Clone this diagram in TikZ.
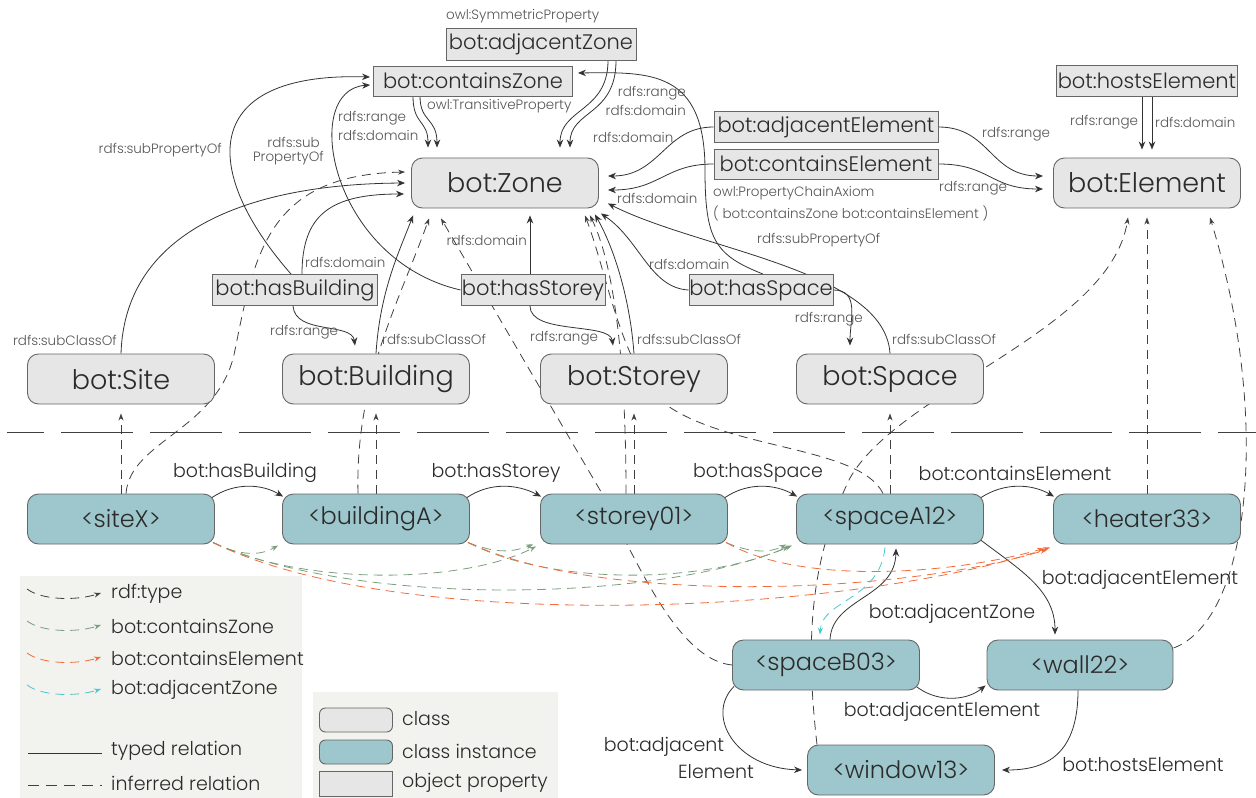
\documentclass[tikz,border=0pt]{standalone}
\usepackage{fontspec}
\setmainfont{Poppins Light}
\usetikzlibrary{arrows.meta}
\definecolor{clsfill}{HTML}{E6E6E6}
\definecolor{instfill}{HTML}{9DC7CC}
\definecolor{legfill}{HTML}{F2F2EE}
\definecolor{czgreen}{HTML}{7A9E7E}
\definecolor{ceorange}{HTML}{F26B3A}
\definecolor{azcyan}{HTML}{4CC6CC}
\definecolor{txt}{HTML}{2B2B2B}
\definecolor{smalltxt}{HTML}{555555}
\newcommand\fsz[1]{\fontsize{#1}{#1}\selectfont}
\pgfdeclarelayer{lowest}
\pgfdeclarelayer{edges}
\pgfsetlayers{lowest,edges,main}
\tikzset{
 cls/.style={draw=black!60, line width=0.9pt, fill=clsfill, rounded corners=11pt, minimum width=187pt, minimum height=50pt, inner sep=0pt, font=\fsz{27}, text=txt},
 inst/.style={cls, fill=instfill, font=\fsz{24}},
 prop/.style={draw=black!60, line width=0.9pt, fill=clsfill, minimum height=31pt, inner sep=0pt, font=\fsz{21}, text=txt},
 sl/.style={font=\fsz{13.5}, text=smalltxt, inner sep=0pt},
 el/.style={font=\fsz{19}, text=txt, inner sep=0pt},
 ar/.style={-{Stealth[length=8pt,width=6.5pt]}, line width=0.8pt, draw=black!80},
 infer/.style={-{Stealth[length=7pt,width=5pt]}, line width=0.8pt, draw=black!75, dash pattern=on 9pt off 6pt},
 gz/.style={infer, draw=czgreen},
 oe/.style={infer, draw=ceorange},
 cz/.style={infer, draw=azcyan},
}
\begin{document}
\begin{tikzpicture}[x=1pt,y=-1pt]
\useasboundingbox (0,0) rectangle (1256,798);
% ---------- classes ----------
\node[cls] (zone) at (505,183) {bot:Zone};
\node[cls] (element) at (1147,183) {bot:Element};
\node[cls] (site) at (121,379) {bot:Site};
\node[cls] (building) at (376,379) {bot:Building};
\node[cls] (storey) at (634,379) {bot:Storey};
\node[cls] (space) at (890,379) {bot:Space};
% ---------- instances ----------
\node[inst] (siteX) at (121,519) {<siteX>};
\node[inst] (buildingA) at (376,519) {<buildingA>};
\node[inst] (storey01) at (634,519) {<storey01>};
\node[inst] (spaceA12) at (890,519) {<spaceA12>};
\node[inst] (heater) at (1147,519) {<heater33>};
\node[inst] (spaceB) at (826,665) {<spaceB03>};
\node[inst, minimum width=186pt] (wall) at (1080,665) {<wall22>};
\node[inst] (window) at (901,770) {<window13>};
% ---------- properties ----------
\node[prop, minimum width=190pt, minimum height=32pt] (adjZ) at (541,44) {bot:adjacentZone};
\node[prop, minimum width=199pt, minimum height=30pt] (conZ) at (473,81) {bot:containsZone};
\node[prop, minimum width=224pt] (adjE) at (826,127) {bot:adjacentElement};
\node[prop, minimum width=224pt, minimum height=30pt] (conE) at (826,164) {bot:containsElement};
\node[prop, minimum width=181pt] (hostE) at (1147,81) {bot:hostsElement};
\node[prop, minimum width=165pt] (hasB) at (295,290) {bot:hasBuilding};
\node[prop, minimum width=144pt] (hasS) at (533,290) {bot:hasStorey};
\node[prop, minimum width=144pt] (hasSp) at (761,290) {bot:hasSpace};
% ---------- small labels ----------
\node[sl, anchor=west] (l1) at (446,16) {owl:SymmetricProperty};
\node[sl, anchor=west] (l2) at (427,106) {owl:TransitiveProperty};
\node[sl, anchor=west] (l3) at (338,118) {rdfs:range};
\node[sl, anchor=west] (l4) at (338,135) {rdfs:domain};
\node[sl, anchor=east] (l5) at (686,93) {rdfs:range};
\node[sl, anchor=east] (l6) at (686,110) {rdfs:domain};
\node[sl, anchor=west] (l7) at (593,137) {rdfs:domain};
\node[sl, anchor=west] (l8) at (617,198) {rdfs:domain};
\node[sl, anchor=west] (l9) at (982,134) {rdfs:range};
\node[sl, anchor=west] (l10) at (939,188) {rdfs:range};
\node[sl, anchor=west] (l11) at (713,193) {owl:PropertyChainAxiom};
\node[sl, anchor=west] (l12) at (713,213) {( bot:containsZone bot:containsElement )};
\node[sl, anchor=west] (l13) at (1070,122) {rdfs:range};
\node[sl, anchor=west] (l14) at (1155,122) {rdfs:domain};
\node[sl, anchor=east] (l15) at (222,150) {rdfs:subPropertyOf};
\node[sl, anchor=east] (l16) at (320,142) {rdfs:sub};
\node[sl, anchor=east] (l17) at (324,158) {PropertyOf};
\node[sl, anchor=west] (l18) at (757,240) {rdfs:subPropertyOf};
\node[sl, anchor=west] (l19) at (305,262) {rdfs:domain};
\node[sl, anchor=west] (l20) at (270,332) {rdfs:range};
\node[sl, anchor=east] (l21) at (527,240) {rdfs:domain};
\node[sl, anchor=west] (l22) at (530,338) {rdfs:range};
\node[sl, anchor=west] (l23) at (649,264) {rdfs:domain};
\node[sl, anchor=east] (l24) at (863,319) {rdfs:range};
\node[sl, anchor=east] (l25) at (117,340) {rdfs:subClassOf};
\node[sl, anchor=west] (l26) at (382,339) {rdfs:subClassOf};
\node[sl, anchor=west] (l27) at (637,339) {rdfs:subClassOf};
\node[sl, anchor=west] (l28) at (892,339) {rdfs:subClassOf};
% ---------- instance edge labels ----------
\node[el] (e1) at (245,473) {bot:hasBuilding};
\node[el] (e2) at (496,473) {bot:hasStorey};
\node[el] (e3) at (758,473) {bot:hasSpace};
\node[el] (e4) at (1015,473) {bot:containsElement};
\node[el] (e5) at (1140,580) {bot:adjacentElement};
\node[el] (e6) at (952,614) {bot:adjacentZone};
\node[el] (e7) at (942,712) {bot:adjacentElement};
\node[el] (e8) at (664,747) {bot:adjacent};
\node[el] (e9) at (716,772) {Element};
\node[el] (e10) at (1143,765) {bot:hostsElement};
% ---------- legend ----------
\begin{pgfonlayer}{lowest}
\fill[legfill] (20,576) rectangle (302,798);
\fill[legfill] (313,692) rectangle (558,798);
\end{pgfonlayer}
\coordinate (ga1) at (27,589); \coordinate (gb1) at (101,593);
\coordinate (ga2) at (27,621); \coordinate (gb2) at (101,625);
\coordinate (ga3) at (27,653); \coordinate (gb3) at (101,657);
\coordinate (ga4) at (27,685); \coordinate (gb4) at (101,689);
\coordinate (ga5) at (28,753); \coordinate (gb5) at (102,753);
\coordinate (ga6) at (28,785); \coordinate (gb6) at (102,785);
\draw[infer] (ga1) .. controls (42,600) and (75,601) .. (gb1);
\draw[gz] (ga2) .. controls (42,632) and (75,633) .. (gb2);
\draw[oe] (ga3) .. controls (42,664) and (75,665) .. (gb3);
\draw[cz] (ga4) .. controls (42,696) and (75,697) .. (gb4);
\draw[line width=0.8pt, black!80] (ga5) -- (gb5);
\draw[line width=0.8pt, black!75, dash pattern=on 11pt off 7pt] (ga6) -- (gb6);
\node[el, anchor=west] (t1) at (111,594) {rdf:type};
\node[el, anchor=west] (t2) at (111,626) {bot:containsZone};
\node[el, anchor=west] (t3) at (111,658) {bot:containsElement};
\node[el, anchor=west] (t4) at (111,690) {bot:adjacentZone};
\node[el, anchor=west] (t5) at (111,751) {typed relation};
\node[el, anchor=west] (t6) at (111,783) {inferred relation};
\node[cls, minimum width=73pt, minimum height=24pt, rounded corners=6pt] (k1) at (356,720) {};
\node[inst, minimum width=73pt, minimum height=24pt, rounded corners=6pt] (k2) at (356,752) {};
\node[prop, minimum width=73pt, minimum height=25pt] (k3) at (356,784) {};
\node[el, anchor=west] (t7) at (402,719) {class};
\node[el, anchor=west] (t8) at (402,751) {class instance};
\node[el, anchor=west] (t9) at (402,783) {object property};
% ---------- separator ----------
\draw[line width=0.9pt, black!75, dash pattern=on 72pt off 17pt, dash phase=35pt] (7,432) -- (1256,432);
% ---------- edges ----------
\begin{pgfonlayer}{edges}
% containsZone / adjacentZone -> Zone
\draw[ar] ([xshift=-60pt]conZ.south) .. controls (413,125) and (428,120) .. ([xshift=-77pt,yshift=10pt]zone.north);
\draw[ar] ([xshift=-53pt]conZ.south) .. controls (420,122) and (437,118) .. ([xshift=-68pt,yshift=10pt]zone.north);
\draw[ar] ([xshift=67pt]adjZ.south) .. controls (608,112) and (560,108) .. ([xshift=55pt,yshift=10pt]zone.north);
\draw[ar] ([xshift=75pt]adjZ.south) .. controls (616,116) and (570,110) .. ([xshift=65pt,yshift=10pt]zone.north);
% adjacentElement / containsElement
\draw[ar] (adjE.west) .. controls (665,127) and (660,176) .. ([xshift=9pt,yshift=7pt]zone.east);
\draw[ar] (conE.west) .. controls (665,164) and (660,190) .. ([xshift=9pt,yshift=-7pt]zone.east);
\draw[ar] (adjE.east) .. controls (990,127) and (990,176) .. ([xshift=-10pt,yshift=7pt]element.west);
\draw[ar] (conE.east) .. controls (990,164) and (990,189) .. ([xshift=-10pt,yshift=-6pt]element.west);
% hostsElement
\draw[ar] ([xshift=-5pt]hostE.south) -- ([xshift=-5pt,yshift=8pt]element.north);
\draw[ar] ([xshift=5pt]hostE.south) -- ([xshift=5pt,yshift=8pt]element.north);
% subPropertyOf
\draw[ar] ([xshift=-4pt]hasB.north) .. controls (200,170) and (200,72) .. ([xshift=-3pt,yshift=4pt]conZ.west);
\draw[ar] (hasS.west) .. controls (330,260) and (300,90) .. ([xshift=-3pt,yshift=-4pt]conZ.west);
\draw[ar] ([xshift=2pt]hasSp.north) .. controls (715,255) and (705,240) .. (705,170) .. controls (705,70) and (650,72) .. ([xshift=5pt,yshift=8pt]conZ.east);
% domains / ranges of hasX
\draw[ar] ([xshift=7pt]hasB.north) .. controls (302,215) and (330,194) .. ([xshift=-7pt,yshift=-11pt]zone.west);
\draw[ar] ([xshift=-2pt]hasB.south) .. controls (295,335) and (352,322) .. ([xshift=-21pt,yshift=8pt]building.north);
\draw[ar] ([xshift=-3pt]hasS.north) -- ([xshift=25pt,yshift=-7pt]zone.south);
\draw[ar] ([xshift=-3pt]hasS.south) .. controls (530,335) and (610,322) .. ([xshift=-21pt,yshift=8pt]storey.north);
\draw[ar] (hasSp.west) .. controls (650,288) and (640,240) .. ([xshift=2pt,yshift=-5pt]zone.south east);
\draw[ar] (hasSp.east) .. controls (860,290) and (850,320) .. ([xshift=-40pt,yshift=8pt]space.north);
% subClassOf
\draw[ar] (site.north) .. controls (125,230) and (250,184) .. ([xshift=-6pt]zone.west);
\draw[ar] (building.north) .. controls (380,290) and (400,250) .. ([xshift=-92pt,yshift=-7pt]zone.south);
\draw[ar] (storey.north) .. controls (630,300) and (615,250) .. ([xshift=-4pt,yshift=-6pt]zone.south east);
\draw[ar] (space.north) .. controls (885,270) and (700,250) .. ([xshift=9pt,yshift=5pt]zone.south east);
% inferred rdf:type
\draw[infer] (siteX.north) -- ([yshift=-9pt]site.south);
\draw[infer] (buildingA.north) -- ([yshift=-9pt]building.south);
\draw[infer] (storey01.north) -- ([yshift=-9pt]storey.south);
\draw[infer] (spaceA12.north) -- ([yshift=-9pt]space.south);
\draw[infer] (heater.north) -- ([yshift=-9pt]element.south);
\draw[infer] ([xshift=5pt]siteX.north) .. controls (130,440) and (220,430) .. (235,350) .. controls (255,250) and (270,175) .. ([xshift=-6pt,yshift=11pt]zone.west);
\draw[infer] ([xshift=-18pt]buildingA.north) .. controls (355,380) and (400,300) .. ([xshift=-76pt,yshift=-10pt]zone.south);
\draw[infer] (spaceB.west) .. controls (680,660) and (640,570) .. (600,490) .. controls (547,400) and (494,309) .. ([xshift=-64pt,yshift=-10pt]zone.south);
\draw[infer] ([xshift=-8pt]storey01.north) .. controls (626,350) and (612,260) .. ([xshift=-9pt,yshift=-7pt]zone.south east);
\draw[infer] ([xshift=-7pt]spaceA12.north) .. controls (860,445) and (720,450) .. (660,400) .. controls (620,360) and (606,270) .. ([xshift=-14pt,yshift=-7pt]zone.south east);
\draw[infer] ([xshift=-84pt]window.north) .. controls (805,640) and (810,560) .. (850,478) .. controls (900,390) and (1110,330) .. ([xshift=-19pt,yshift=-9pt]element.south);
\draw[infer] ([yshift=17pt]wall.east) .. controls (1250,620) and (1272,420) .. ([xshift=63pt,yshift=-9pt]element.south);
% instance relations
\draw[ar] ([xshift=-3pt,yshift=-4pt]siteX.north east) .. controls (235,482) and (262,484) .. ([xshift=1pt,yshift=-3pt]buildingA.north west);
\draw[ar] ([xshift=-3pt,yshift=-4pt]buildingA.north east) .. controls (490,482) and (517,484) .. ([xshift=1pt,yshift=-3pt]storey01.north west);
\draw[ar] ([xshift=-3pt,yshift=-4pt]storey01.north east) .. controls (748,482) and (775,484) .. ([xshift=1pt,yshift=-3pt]spaceA12.north west);
\draw[ar] ([xshift=-3pt,yshift=-4pt]spaceA12.north east) .. controls (1005,482) and (1032,484) .. ([xshift=1pt,yshift=-3pt]heater.north west);
\draw[ar] ([xshift=-4pt,yshift=5pt]spaceA12.south east) .. controls (1020,570) and (1055,590) .. ([xshift=-25pt,yshift=5pt]wall.north);
\draw[ar] ([xshift=4pt]spaceB.north) .. controls (832,598) and (895,598) .. ([xshift=6pt,yshift=-4pt]spaceA12.south);
\draw[ar] ([xshift=-5pt,yshift=5pt]spaceB.south east) .. controls (935,702) and (965,702) .. ([xshift=-1pt,yshift=5pt]wall.south west);
\draw[ar] ([xshift=2pt,yshift=4pt]spaceB.south west) .. controls (705,715) and (735,768) .. ([xshift=-5pt]window.west);
\draw[ar] ([xshift=-2pt]wall.south) .. controls (1078,760) and (1040,770) .. ([xshift=7pt]window.east);
% inferred containsZone
\draw[gz] ([xshift=-2pt,yshift=2pt]siteX.south east) .. controls (240,556) and (260,556) .. ([xshift=-4pt,yshift=-1pt]buildingA.south west);
\draw[gz] ([xshift=-2pt,yshift=2pt]siteX.south east) .. controls (300,585) and (460,585) .. ([xshift=-4pt,yshift=-2pt]storey01.south west);
\draw[gz] ([xshift=-2pt,yshift=2pt]siteX.south east) .. controls (350,605) and (650,605) .. ([xshift=-4pt,yshift=-1pt]spaceA12.south west);
\draw[gz] ([xshift=-2pt,yshift=2pt]buildingA.south east) .. controls (495,553) and (510,553) .. ([xshift=-7pt,yshift=0pt]storey01.south west);
\draw[gz] ([xshift=-2pt,yshift=2pt]buildingA.south east) .. controls (550,585) and (700,585) .. ([xshift=-7pt,yshift=-2pt]spaceA12.south west);
\draw[gz] ([xshift=-2pt,yshift=2pt]storey01.south east) .. controls (750,553) and (770,553) .. ([xshift=-10pt,yshift=0pt]spaceA12.south west);
% inferred containsElement
\draw[oe] ([xshift=-2pt,yshift=2pt]siteX.south east) .. controls (400,635) and (850,615) .. ([xshift=-3pt,yshift=-3pt]heater.south west);
\draw[oe] ([xshift=-2pt,yshift=2pt]buildingA.south east) .. controls (600,605) and (900,595) .. ([xshift=-6pt,yshift=-5pt]heater.south west);
\draw[oe] ([xshift=-2pt,yshift=2pt]storey01.south east) .. controls (800,585) and (950,575) .. ([xshift=-9pt,yshift=-4pt]heater.south west);
% inferred adjacentZone
\draw[cz] ([xshift=-5pt,yshift=-3pt]spaceA12.south) .. controls (880,600) and (822,600) .. ([xshift=-6pt,yshift=5pt]spaceB.north);
\end{pgfonlayer}
\end{tikzpicture}
\end{document}
